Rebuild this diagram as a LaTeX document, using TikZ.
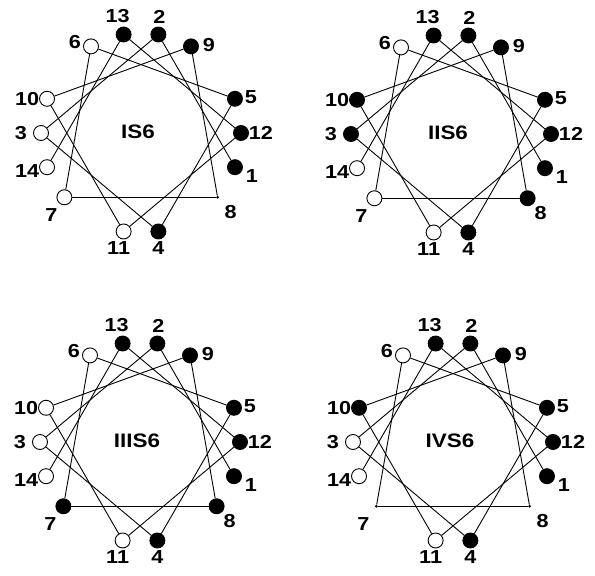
\documentclass[tikz,border=0pt]{standalone}
\usepackage{fontspec}
\setmainfont{Liberation Sans}
\newfontfamily\wheelfont[FakeStretch=1.15]{Liberation Sans}
\usepackage{tikz}

\begin{document}
\begin{tikzpicture}[
    x=1pt, y=1pt,
    blk/.style={circle, draw=black, fill=black, line width=0.9pt, minimum size=15pt, inner sep=0pt},
    wht/.style={circle, draw=black, fill=white, line width=0.9pt, minimum size=15pt, inner sep=0pt},
    sml/.style={circle, fill=black, minimum size=3pt, inner sep=0pt},
    num/.style={font=\wheelfont\bfseries\fontsize{18.8}{21}\selectfont, inner sep=0pt},
    ttl/.style={font=\wheelfont\bfseries\fontsize{19.5}{22}\selectfont, inner sep=0pt},
    lnk/.style={draw=black, line width=0.9pt}
]
    \useasboundingbox (0,0) rectangle (595,576);

    % wheel centres
    \coordinate (ca) at (141,443);
    \coordinate (cb) at (451,442);
    \coordinate (cc) at (140,134);
    \coordinate (cd) at (453,134);

    % residues, 100 degrees apart
    \foreach \n/\s in {1/blk,2/blk,3/wht,4/blk,5/blk,6/wht,7/wht,8/sml,9/blk,10/wht,11/wht,12/blk,13/blk,14/wht}
        \node [\s] (a\n) at ([shift={({-20+100*(\n-1)}:100)}]ca) {};
    \foreach \n/\s in {1/blk,2/blk,3/blk,4/blk,5/blk,6/wht,7/wht,8/blk,9/blk,10/blk,11/wht,12/blk,13/blk,14/wht}
        \node [\s] (b\n) at ([shift={({-20+100*(\n-1)}:100)}]cb) {};
    \foreach \n/\s in {1/blk,2/blk,3/wht,4/blk,5/blk,6/wht,7/blk,8/blk,9/blk,10/wht,11/wht,12/blk,13/blk,14/wht}
        \node [\s] (c\n) at ([shift={({-20+100*(\n-1)}:100)}]cc) {};
    \foreach \n/\s in {1/blk,2/blk,3/wht,4/blk,5/blk,6/wht,7/sml,8/sml,9/blk,10/blk,11/wht,12/blk,13/blk,14/wht}
        \node [\s] (d\n) at ([shift={({-20+100*(\n-1)}:100)}]cd) {};

    % residue numbers
    \foreach \w in {a,b,c,d}
        \foreach \n/\dx/\dy in {1/17/-9,2/1/18,3/-20/0,4/0/-17,5/16/2,6/-16/4,7/-13/-18,8/13/-15,9/18/1,10/-20/0,11/-5/-17,12/20/0,13/-6/18,14/-20/-4}
            \node [num] (l\w\n) at ([shift={(\dx,\dy)}]\w\n.center) {\n};

    % backbone
    \foreach \w in {a,b,c,d} {
        \foreach \n/\k in {1/2,2/3,3/4,4/5,5/6,6/7,7/8,8/9,9/10,10/11,11/12,12/13,13/14} {
            \draw [lnk] (\w\n) -- (\w\k);
        }
    }

    \node [ttl] (ta) at ([shift={(-3,1)}]ca) {IS6};
    \node [ttl] (tb) at ([shift={(-3,1)}]cb) {IIS6};
    \node [ttl] (tc) at ([shift={(-3,1)}]cc) {IIIS6};
    \node [ttl] (td) at ([shift={(-3,1)}]cd) {IVS6};
\end{tikzpicture}
\end{document}
